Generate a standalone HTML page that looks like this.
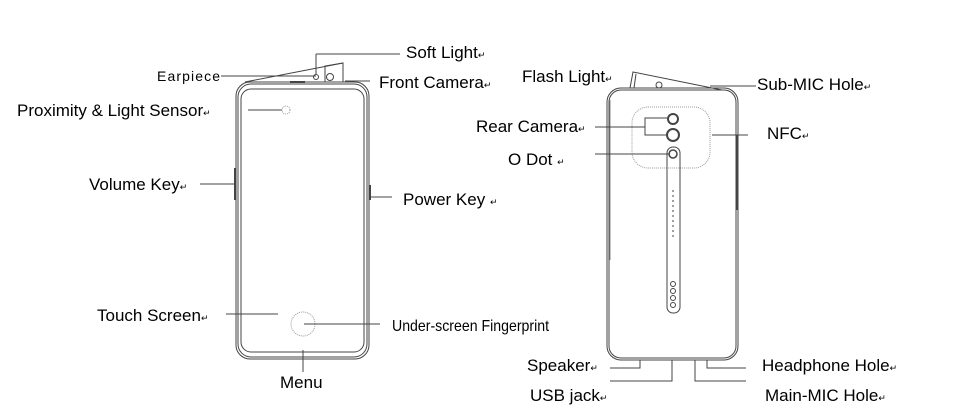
<!DOCTYPE html>
<html><head><style>
body{margin:0;background:#fff}
svg{display:block}
text{font-family:"Liberation Sans",sans-serif;fill:#000}
</style></head><body>
<svg width="975" height="411" viewBox="0 0 975 411" xmlns="http://www.w3.org/2000/svg">
<g fill="none" stroke="#444" stroke-width="1">
<rect x="236" y="82" width="133" height="277" rx="14"/>
<rect x="238" y="84" width="129" height="273" rx="13"/>
<rect x="241" y="89" width="123" height="263" rx="10"/>
<path d="M245 82 L343 63 L343 82" />
<path d="M325 82 L325 66 L343 63"/>
<circle cx="316" cy="77" r="2.5"/>
<circle cx="330" cy="77" r="3.5"/>
<line x1="290" y1="82" x2="305" y2="82" stroke-width="2"/>
<circle cx="286" cy="110" r="4" stroke="#999" stroke-dasharray="1,1"/>
<line x1="235" y1="168" x2="235" y2="200" stroke-width="2"/>
<line x1="370" y1="185" x2="370" y2="200" stroke-width="2"/>
<circle cx="303" cy="324" r="12" stroke="#999" stroke-dasharray="1,1"/>
<line x1="221" y1="76" x2="316" y2="76"/>
<line x1="316" y1="74" x2="316" y2="54"/><line x1="316" y1="54" x2="400" y2="54"/>
<line x1="345" y1="81" x2="370" y2="81"/>
<line x1="248" y1="110" x2="282" y2="110"/>
<line x1="200" y1="184" x2="236" y2="184"/>
<line x1="370" y1="197" x2="392" y2="197"/>
<line x1="226" y1="314" x2="278" y2="314"/>
<line x1="304" y1="324" x2="380" y2="324"/>
<line x1="303" y1="350" x2="303" y2="372"/>
<rect x="607" y="88" width="131" height="272" rx="14"/>
<rect x="609" y="90" width="127" height="268" rx="12"/>
<path d="M630 88 L633 72 L722 90"/>
<path d="M634 88 L636 74"/>
<circle cx="659" cy="85" r="3"/>
<line x1="625" y1="88" x2="720" y2="88"/>
<line x1="610" y1="100" x2="610" y2="260" stroke="#888"/>
<line x1="737" y1="135" x2="737" y2="210" stroke-width="2"/>
<rect x="632" y="107" width="78" height="61" rx="16" stroke="#999" stroke-dasharray="1,1"/>
<circle cx="673" cy="119" r="5" stroke-width="2"/>
<circle cx="673" cy="135" r="6" stroke-width="2"/>
<rect x="667" y="147" width="13" height="166" rx="6"/>
<circle cx="673" cy="154" r="4" stroke-width="1.5"/>
<circle cx="673" cy="284" r="2.5"/><circle cx="673" cy="291" r="2.5"/><circle cx="673" cy="298" r="2.5"/><circle cx="673" cy="305" r="2.5"/>
<line x1="673" y1="190" x2="673" y2="240" stroke-dasharray="2,3"/>
<line x1="710" y1="86" x2="756" y2="86"/>
<line x1="595" y1="127" x2="645" y2="127"/>
<path d="M667 118 H645 V135 H667"/>
<line x1="595" y1="154" x2="670" y2="154"/>
<line x1="712" y1="135" x2="748" y2="135"/>
<path d="M610 368 H640 V360"/>
<path d="M610 381 H672 V360"/>
<path d="M746 381 H695 V360"/>
<path d="M746 368 H707 V360"/>
</g>
<g font-size="17">
<text x="406" y="58">Soft Light<tspan font-size="9">↵</tspan></text>
<text x="157" y="81" font-size="14" textLength="63">Earpiece</text>
<text x="379" y="88">Front Camera<tspan font-size="9">↵</tspan></text>
<text x="17" y="116">Proximity &amp; Light Sensor<tspan font-size="9">↵</tspan></text>
<text x="89" y="190">Volume Key<tspan font-size="9">↵</tspan></text>
<text x="403" y="205">Power Key <tspan font-size="9">  ↵</tspan></text>
<text x="97" y="321">Touch Screen<tspan font-size="9">↵</tspan></text>
<text x="392" y="331" font-size="16" textLength="157" lengthAdjust="spacingAndGlyphs">Under-screen Fingerprint</text>
<text x="280" y="388">Menu</text>
<text x="522" y="82">Flash Light<tspan font-size="9">↵</tspan></text>
<text x="757" y="90">Sub-MIC Hole<tspan font-size="9">↵</tspan></text>
<text x="476" y="132">Rear Camera<tspan font-size="9">↵</tspan></text>
<text x="767" y="139">NFC<tspan font-size="9">↵</tspan></text>
<text x="508" y="165">O Dot <tspan font-size="9">  ↵</tspan></text>
<text x="527" y="371">Speaker<tspan font-size="9">↵</tspan></text>
<text x="762" y="371">Headphone Hole<tspan font-size="9">↵</tspan></text>
<text x="530" y="401">USB jack<tspan font-size="9">↵</tspan></text>
<text x="765" y="401">Main-MIC Hole<tspan font-size="9">↵</tspan></text>
</g>
</svg>
</body></html>
